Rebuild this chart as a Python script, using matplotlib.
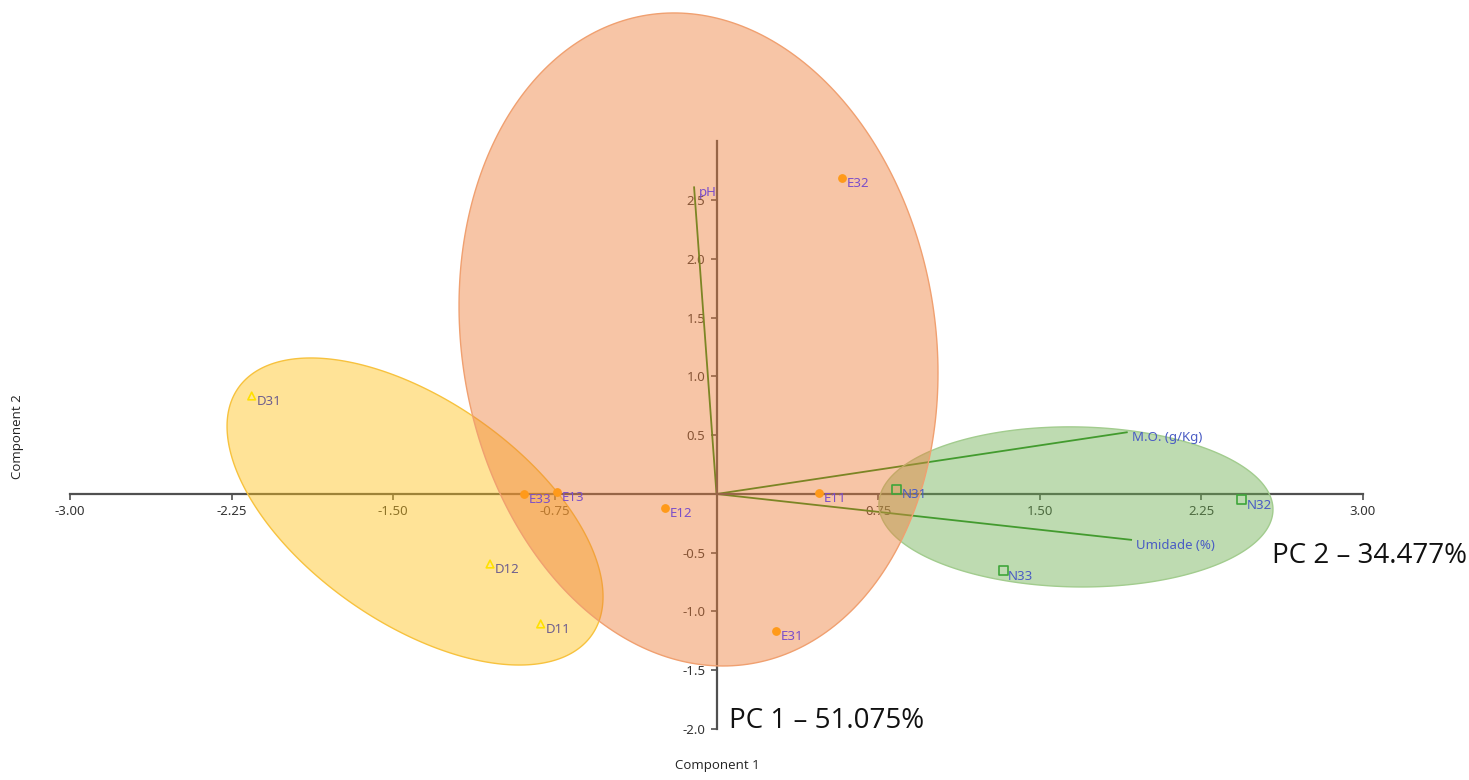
import numpy as np
import matplotlib
matplotlib.use("Agg")
import matplotlib.pyplot as plt
from matplotlib.colors import to_rgba

# sample scores (PC1, PC2)
d_names = ["D31", "D12", "D11"]
d_x = [-2.157, -1.051, -0.816]
d_y = [0.834, -0.596, -1.106]

e_names = ["E33", "E13", "E12", "E11", "E32", "E31"]
e_x = [-0.893, -0.739, -0.239, 0.477, 0.581, 0.275]
e_y = [0.0, 0.02, -0.122, 0.006, 2.687, -1.166]

n_names = ["N31", "N32", "N33"]
n_x = [0.835, 2.436, 1.330]
n_y = [0.04, -0.05, -0.653]

# loadings (biplot vectors)
var_names = ["pH", "M.O. (g/Kg)", "Umidade (%)"]
var_x = [-0.104, 1.904, 1.924]
var_y = [2.61, 0.525, -0.39]

# group ellipses: centre and covariance
d_center = [-1.399, -0.149]
d_cov = [[0.761, -0.632], [-0.632, 1.707]]
e_center = [-0.0835, 1.315]
e_cov = [[1.235, -0.316], [-0.316, 7.721]]
n_center = [1.668, -0.11]
n_cov = [[0.836, -0.02], [-0.02, 0.464]]

x_ticks = [-3.0, -2.25, -1.5, -0.75, 0.75, 1.5, 2.25, 3.0]
y_ticks = [-2.0, -1.5, -1.0, -0.5, 0.5, 1.0, 1.5, 2.0, 2.5]

fig = plt.figure(figsize=(14.69, 7.80), dpi=100)
ax = fig.add_axes([0, 0, 1, 1])
ax.set_xlim(-3.325, 3.492)
ax.set_ylim(-2.434, 4.204)

for s in ["top", "right"]:
    ax.spines[s].set_visible(False)
ax.spines["left"].set_position(("data", 0))
ax.spines["bottom"].set_position(("data", 0))
ax.spines["left"].set_bounds(-2, 3)
ax.spines["bottom"].set_bounds(-3, 3)
for s in ["left", "bottom"]:
    ax.spines[s].set_color("#505050")
    ax.spines[s].set_linewidth(1.6)

ax.set_xticks(x_ticks)
ax.set_xticklabels(["%.2f" % v for v in x_ticks])
ax.set_yticks(y_ticks)
ax.set_yticklabels(["%.1f" % v for v in y_ticks])
ax.tick_params(axis="both", direction="out", length=4.5, width=1.2,
               color="#505050", labelcolor="#333333", labelsize=9.5)
for lab in ax.get_xticklabels() + ax.get_yticklabels():
    lab.set_fontfamily("Noto Sans")

# loading vectors
for vx, vy in zip(var_x, var_y):
    ax.plot([0, vx], [0, vy], color="#1f8a12", lw=1.3, zorder=2)


def draw_ellipse(center, cov, color, edge):
    t = np.linspace(0, 2 * np.pi, 300)
    L = np.linalg.cholesky(np.array(cov))
    pts = L @ np.vstack([np.cos(t), np.sin(t)])
    ax.fill(center[0] + pts[0], center[1] + pts[1],
            facecolor=to_rgba(color, 0.45), edgecolor=edge, lw=1.0, zorder=5)


draw_ellipse(d_center, d_cov, "#ffc21a", "#f7c23e")
draw_ellipse(n_center, n_cov, "#6fb052", "#a2cc8e")
draw_ellipse(e_center, e_cov, "#ee7f3a", "#f0a070")

# points
ax.scatter(d_x, d_y, marker="^", s=30, facecolors="none",
           edgecolors="#ffe000", linewidths=1.2, zorder=6)
ax.scatter(e_x, e_y, marker="o", s=28, color="#ff9a1a", zorder=6)
ax.scatter(n_x, n_y, marker="s", s=40, facecolors="none",
           edgecolors="#3ea53a", linewidths=1.2, zorder=6)

lab_kw = dict(textcoords="offset points", xytext=(3.5, -4), ha="left",
              va="center", fontsize=9.5, family="Noto Sans", zorder=7)
for nm, x, y in zip(d_names, d_x, d_y):
    ax.annotate(nm, (x, y), color="#6e5e8e", **lab_kw)
for nm, x, y in zip(e_names, e_x, e_y):
    ax.annotate(nm, (x, y), color="#7b4fc9", **lab_kw)
for nm, x, y in zip(n_names, n_x, n_y):
    ax.annotate(nm, (x, y), color="#4a5cc4", **lab_kw)
var_cols = ["#7b4fc9", "#4a5cc4", "#4a5cc4"]
for nm, x, y, c in zip(var_names, var_x, var_y, var_cols):
    ax.annotate(nm, (x, y), color=c, **lab_kw)

ax.text(0.488, 0.01, "Component 1", transform=ax.transAxes, ha="center",
        va="bottom", fontsize=9.5, family="Open Sans", color="#222222")
ax.text(0.012, 0.44, "Component 2", transform=ax.transAxes, ha="center",
        va="center", rotation=90, fontsize=9.5, family="Open Sans",
        color="#222222")

ax.text(0.06, -1.93, "PC 1 \u2013 51.075%", ha="left", va="center",
        fontsize=20, family="Open Sans", color="#111111", zorder=8)
ax.text(2.58, -0.53, "PC 2 \u2013 34.477%", ha="left", va="center",
        fontsize=20, family="Open Sans", color="#111111", zorder=8)

fig.savefig("out.png", dpi=100)
